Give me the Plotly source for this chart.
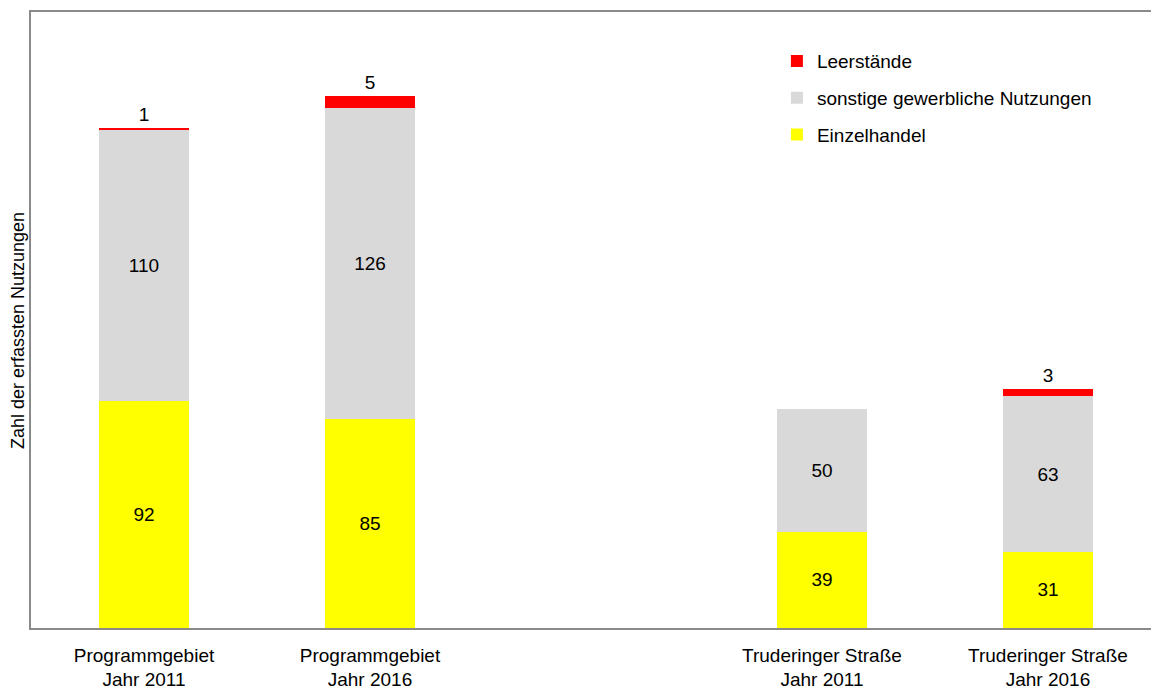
import plotly.graph_objects as go

# Erfasste Nutzungen je Gebiet und Jahr
categories = [
    "Programmgebiet<br>Jahr 2011",
    "Programmgebiet<br>Jahr 2016",
    "Truderinger Straße<br>Jahr 2011",
    "Truderinger Straße<br>Jahr 2016",
]
einzelhandel = [92, 85, 39, 31]
sonstige = [110, 126, 50, 63]
leerstaende = [1, 5, 0, 3]

# Leerer Platzhalter trennt die beiden Gebiete auf der x-Achse
spacer = " "
axis_order = categories[:2] + [spacer] + categories[2:]

FONT = "Liberation Sans, Arial, sans-serif"
SIZE = 19

fig = go.Figure()

fig.add_trace(go.Bar(
    x=categories, y=einzelhandel, name="Einzelhandel",
    marker=dict(color="#FFFF00", line=dict(width=0)),
    text=[str(v) for v in einzelhandel], textposition="inside",
    insidetextanchor="middle", textangle=0,
    textfont=dict(color="black", size=SIZE, family=FONT),
    legendgroup="a", legendrank=3, width=0.4,
))
fig.add_trace(go.Bar(
    x=categories, y=sonstige, name="sonstige gewerbliche Nutzungen",
    marker=dict(color="#D9D9D9", line=dict(width=0)),
    text=[str(v) for v in sonstige], textposition="inside",
    insidetextanchor="middle", textangle=0,
    textfont=dict(color="black", size=SIZE, family=FONT),
    legendgroup="b", legendrank=2, width=0.4,
))
fig.add_trace(go.Bar(
    x=categories, y=leerstaende, name="Leerstände",
    marker=dict(color="#FF0000", line=dict(width=0)),
    text=[str(v) if v else "" for v in leerstaende], textposition="outside",
    textangle=0, cliponaxis=False,
    textfont=dict(color="black", size=SIZE, family=FONT),
    legendgroup="c", legendrank=1, width=0.4,
))

fig.update_layout(
    barmode="stack",
    width=1151, height=689,
    margin=dict(l=31, r=0, t=12, b=61, autoexpand=False),
    paper_bgcolor="white", plot_bgcolor="white",
    font=dict(family=FONT, size=SIZE, color="black"),
    showlegend=True,
    legend=dict(
        x=0.666, y=0.951, xanchor="left", yanchor="top",
        traceorder="grouped", tracegroupgap=9,
        font=dict(size=SIZE, family=FONT), bgcolor="rgba(0,0,0,0)",
    ),
    xaxis=dict(
        type="category", categoryorder="array", categoryarray=axis_order,
        range=[-0.5, 4.456], showgrid=False, zeroline=False,
        showline=True, linecolor="#8a8a8a", linewidth=1.5, mirror=True,
        automargin=False,
        ticks="", ticklabelstandoff=9, tickfont=dict(size=SIZE, family=FONT),
    ),
    yaxis=dict(
        range=[0, 250], showgrid=False, zeroline=False,
        showline=True, linecolor="#8a8a8a", linewidth=1.5,
        showticklabels=False, ticks="", automargin=False,
    ),
    annotations=[dict(
        text="Zahl der erfassten Nutzungen", textangle=-90,
        xref="paper", yref="paper", x=0, y=0.482, xshift=-13,
        xanchor="center", yanchor="middle", showarrow=False,
        font=dict(size=18, family=FONT, color="black"),
    )],
)

fig.write_html("out.html")
